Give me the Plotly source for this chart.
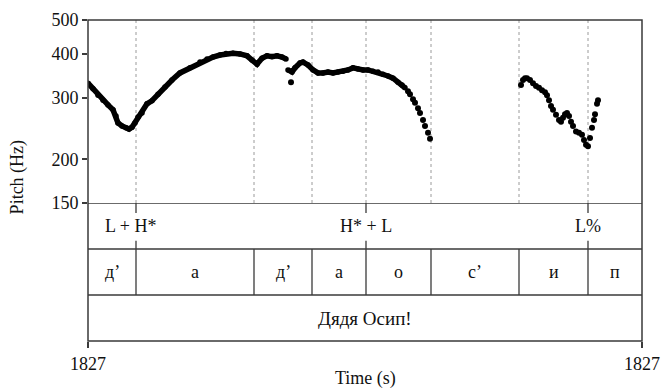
import plotly.graph_objects as go

# ---------------- data ----------------
# continuous pitch stretches (time in s from start, pitch in Hz)
seg1_t = [0.000, 0.010, 0.020, 0.030, 0.040, 0.050, 0.056, 0.060, 0.068, 0.076, 0.082, 0.088,
          0.094, 0.100, 0.108, 0.118, 0.128, 0.140, 0.154, 0.168, 0.184, 0.204, 0.224, 0.238,
          0.250, 0.264, 0.276, 0.290, 0.304, 0.318, 0.328, 0.338, 0.348, 0.358, 0.368, 0.378,
          0.388, 0.396]
seg1_f = [330, 318, 305, 295, 286, 277, 266, 254, 249, 246, 244, 247,
          254, 264, 271, 288, 294, 307, 322, 337, 353, 365, 379, 387,
          392, 397, 401, 402, 400, 395, 384, 374, 389, 395, 393, 395,
          392, 387]

seg2_t = [0.400, 0.408, 0.414, 0.424, 0.430, 0.440, 0.450, 0.460, 0.470, 0.480, 0.490, 0.500,
          0.510, 0.520, 0.530, 0.540, 0.550, 0.560, 0.570, 0.580, 0.590, 0.600, 0.610,
          0.620, 0.628, 0.634]
seg2_f = [360, 355, 365, 377, 379, 372, 360, 353, 353, 355, 353, 355,
          357, 360, 365, 362, 360, 360, 357, 355, 350, 346, 341,
          332, 326, 320]

# isolated pitch points
dots_t = [0.406,
          0.640, 0.644, 0.650, 0.654, 0.660, 0.664, 0.670, 0.674, 0.680, 0.684,
          0.866, 0.870, 0.874, 0.878, 0.884, 0.890, 0.896, 0.902, 0.908, 0.914, 0.918,
          0.922, 0.926, 0.930, 0.936, 0.942, 0.946, 0.950, 0.954, 0.958, 0.962, 0.966,
          0.970, 0.976, 0.982, 0.988, 0.992, 0.996, 1.000, 1.004, 1.008, 1.012, 1.014,
          1.018, 1.020]
dots_f = [332,
          313, 307, 297, 290, 280, 271, 259, 249, 238, 229,
          326, 337, 341, 341, 337, 330, 324, 320, 315, 311, 305,
          295, 284, 277, 268, 259, 256, 263, 269, 271, 266, 256,
          249, 240, 238, 235, 227, 220, 218, 230, 246, 259, 269,
          288, 295]

t_start = 0.0
t_end = 1.108
x_tick_labels = ["1827", "1827"]

y_ticks = [150, 200, 300, 400, 500]

# tiers
tone_times = [0.096, 0.556, 1.000]
tone_labels = ["L + H*", "H* + L", "L%"]

seg_bounds = [0.0, 0.096, 0.332, 0.448, 0.556, 0.686, 0.862, 1.000, 1.108]
seg_labels = ["д’", "а", "д’", "а", "о", "с’", "и", "п"]

word_label = "Дядя Осип!"

# ---------------- figure ----------------
FONT = "Liberation Serif"
FS = 18
TC = "#111111"
LC = "#3a3a3a"
fig = go.Figure()

fig.add_trace(go.Scatter(
    x=seg1_t + [None] + seg2_t, y=seg1_f + [None] + seg2_f,
    mode="lines+markers", line=dict(color="black", width=5.5),
    marker=dict(color="black", size=5.5), yaxis="y", showlegend=False, hoverinfo="x+y"))
fig.add_trace(go.Scatter(
    x=dots_t, y=dots_f, mode="markers",
    marker=dict(color="black", size=6), yaxis="y", showlegend=False))

shapes = []
# dotted boundary lines in pitch area
for b in seg_bounds[1:-1]:
    shapes.append(dict(type="line", xref="x", yref="y domain", x0=b, x1=b, y0=0, y1=1,
                       line=dict(color="#9a9a9a", width=1, dash="dot"), layer="below"))
# tier horizontal lines
for yy in [1, 2, 3]:
    shapes.append(dict(type="line", xref="x", yref="y2", x0=t_start, x1=t_end, y0=yy, y1=yy,
                       line=dict(color=LC, width=1.3)))
# segment boundaries
for b in seg_bounds[1:-1]:
    shapes.append(dict(type="line", xref="x", yref="y2", x0=b, x1=b, y0=1, y1=2,
                       line=dict(color=LC, width=1.3)))
# tone point ticks
for tt in tone_times:
    shapes.append(dict(type="line", xref="x", yref="y2", x0=tt, x1=tt, y0=2.78, y1=3,
                       line=dict(color=LC, width=1.3)))
    shapes.append(dict(type="line", xref="x", yref="y2", x0=tt, x1=tt, y0=2, y1=2.18,
                       line=dict(color=LC, width=1.3)))
# frame
shapes.append(dict(type="rect", xref="paper", yref="paper", x0=0, x1=1, y0=0, y1=1,
                   line=dict(color=LC, width=1.5)))

annotations = []
for i, (tt, lab) in enumerate(zip(tone_times, tone_labels)):
    annotations.append(dict(x=tt, y=2.5, xref="x", yref="y2", text=lab, showarrow=False,
                            xshift=-6 if i == 0 else 0,
                            font=dict(family=FONT, size=FS, color=TC)))
for i, lab in enumerate(seg_labels):
    annotations.append(dict(x=(seg_bounds[i] + seg_bounds[i + 1]) / 2, y=1.5, xref="x", yref="y2",
                            text=lab, showarrow=False, font=dict(family=FONT, size=FS, color=TC)))
annotations.append(dict(x=(t_start + t_end) / 2, y=0.5, xref="x", yref="y2", text=word_label,
                        showarrow=False, font=dict(family=FONT, size=19, color=TC)))
annotations.append(dict(x=-0.128, y=0.51, xref="paper", yref="paper", text="Pitch (Hz)",
                        xanchor="center", yanchor="middle",
                        textangle=-90, showarrow=False, font=dict(family=FONT, size=FS, color=TC)))
annotations.append(dict(x=0.5, y=-0.116, xref="paper", yref="paper", text="Time (s)",
                        xanchor="center", yanchor="middle",
                        showarrow=False, font=dict(family=FONT, size=FS, color=TC)))

dom = 138 / 321
fig.update_layout(
    width=663, height=391,
    margin=dict(l=88, r=21, t=20, b=50, autoexpand=False),
    paper_bgcolor="white", plot_bgcolor="white",
    font=dict(family=FONT, size=FS, color=TC),
    xaxis=dict(range=[t_start, t_end], anchor="y2", tickvals=[t_start, t_end], ticktext=x_tick_labels,
               ticks="outside", ticklen=6, tickcolor=LC, tickwidth=1.5, showgrid=False, zeroline=False,
               showline=False, automargin=False, tickfont=dict(family=FONT, size=FS, color=TC)),
    yaxis=dict(type="log", range=[2.1760913, 2.69897], domain=[dom, 1], tickvals=y_ticks,
               ticktext=[str(v) for v in y_ticks], ticks="outside", ticklen=5, tickcolor=LC,
               tickwidth=1.5, showgrid=False, zeroline=False, showline=False, automargin=False,
               tickfont=dict(family=FONT, size=FS, color=TC)),
    yaxis2=dict(range=[0, 3], domain=[0, dom], showticklabels=False, ticks="", showgrid=False,
                zeroline=False, showline=False, automargin=False),
    shapes=shapes, annotations=annotations,
)

fig.write_html("out.html", config={"displayModeBar": False},
               post_script="document.body.style.margin='0';document.body.style.overflow='hidden';")
